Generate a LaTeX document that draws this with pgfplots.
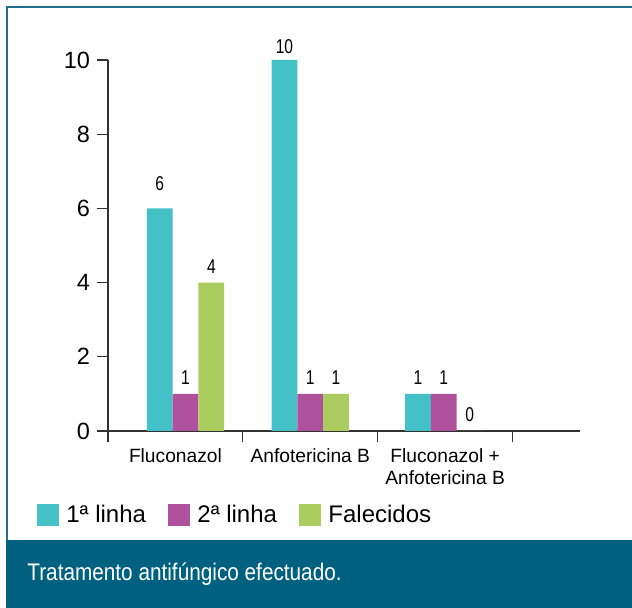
\documentclass[border=0pt]{standalone}
\usepackage{fontspec}
\setmainfont{Liberation Sans}
\newfontfamily\condfont[FakeStretch=0.78]{Liberation Sans}
\newfontfamily\capfont[FakeStretch=0.865]{Liberation Sans}
\usepackage{pgfplots}
\usepackage{pgfplotstable}
\pgfplotsset{compat=1.18}
\definecolor{cteal}{RGB}{67,193,199}
\definecolor{cpurple}{RGB}{176,81,158}
\definecolor{cgreen}{RGB}{171,204,94}
\definecolor{cband}{RGB}{0,96,128}
\definecolor{cborder}{RGB}{35,110,140}
\definecolor{caxis}{RGB}{50,50,50}

\pgfplotstableread{
pos   prim seg fal dy
0.575 6    1   4   8.5
1.5   10   1   1   3
2.49  1    1   0   4.3
}\datatable

\begin{document}
\begin{tikzpicture}
\path[use as bounding box] (0,0) rectangle (316pt,304pt);
\fill[cband] (3pt,0) rectangle (316pt,34pt);
\draw[cborder, line width=1pt] (3.25pt,34pt) -- (3.25pt,300.5pt) -- (316pt,300.5pt);
\node[anchor=base west, text=white, inner sep=0pt, font=\capfont\fontsize{12}{14}\selectfont] at (13.5pt,13.5pt) {Tratamento antifúngico efectuado.};
\begin{axis}[
  at={(54pt,88.5pt)}, anchor=south west,
  scale only axis, width=236pt, height=185.5pt,
  xmin=0, xmax=3.5, ymin=0, ymax=10,
  ybar=0pt, bar width=12.9pt,
  axis x line*=bottom, axis y line*=left,
  axis line style={caxis, line width=0.6pt},
  every tick/.style={caxis, line width=0.6pt},
  tick align=outside,
  major tick length=5.5pt, minor tick length=5.5pt,
  xtick={0.5,1.5,2.5},
  xticklabels={Fluconazol, Anfotericina B, {Fluconazol +\\Anfotericina B}},
  major x tick style={draw=none},
  minor xtick={0,1,2,3},
  xticklabel style={font=\fontsize{9.6}{11}\selectfont, align=center, text=black},
  ytick={0,2,4,6,8,10},
  yticklabel style={font=\fontsize{11.75}{13}\selectfont, text=black},
  /pgf/number format/assume math mode=true,
  nodes near coords,
  every node near coord/.append style={font=\condfont\fontsize{10}{12}\selectfont, text=black, anchor=south, inner sep=0pt, yshift=4.3pt},
  legend columns=3,
  legend style={at={(-0.1504,-0.2264)}, anchor=west, draw=none, fill=none, inner sep=0pt, outer sep=0pt,
    font=\fontsize{12}{14}\selectfont, nodes={inner sep=0pt},
    /tikz/every even column/.append style={column sep=11pt},
    /tikz/every odd column/.append style={column sep=3.5pt}},
]
\addplot[fill=cteal, draw=none,
  visualization depends on={\thisrow{dy} \as \labdy},
  every node near coord/.append style={yshift=\labdy pt-4.3pt},
  legend image code/.code={\fill[cteal] (0pt,-5.4pt) rectangle (11.2pt,5.4pt);}]
  table[x=pos, y=prim] {\datatable};
\addlegendentry{1ª linha}
\addplot[fill=cpurple, draw=none,
  legend image code/.code={\fill[cpurple] (0pt,-5.4pt) rectangle (11.2pt,5.4pt);}]
  table[x=pos, y=seg] {\datatable};
\addlegendentry{2ª linha}
\addplot[fill=cgreen, draw=none,
  legend image code/.code={\fill[cgreen] (0pt,-5.4pt) rectangle (11.2pt,5.4pt);}]
  table[x=pos, y=fal] {\datatable};
\addlegendentry{Falecidos}
\end{axis}
\end{tikzpicture}
\end{document}
